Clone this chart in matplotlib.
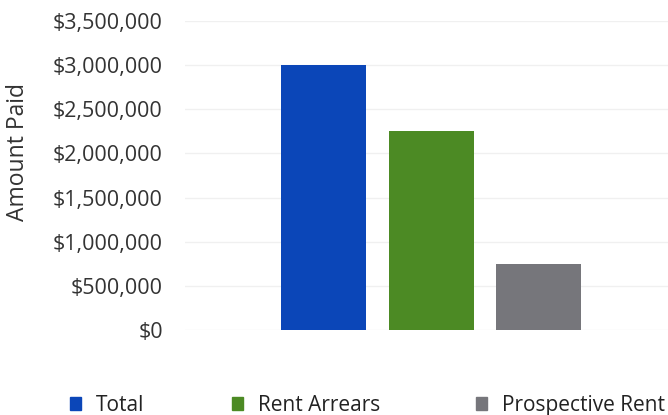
import matplotlib
matplotlib.use("Agg")
import matplotlib.pyplot as plt
from matplotlib.ticker import FuncFormatter, MultipleLocator
from matplotlib.patches import Patch

series = ["Total", "Rent Arrears", "Prospective Rent"]
amounts = [3000000, 2250000, 750000]
colors = ["#0b46b8", "#4c8a24", "#76767b"]

plt.rcParams["font.family"] = ["Open Sans", "DejaVu Sans"]

fig = plt.figure(figsize=(6.68, 4.15), dpi=100)
ax = fig.add_axes([0.277, 0.205, 0.723, 0.744])

xpos = range(len(series))
ax.bar(xpos, amounts, width=0.79, color=colors, zorder=3)

ax.set_xlim(-1.29, 3.2)
ax.set_ylim(0, 3500000)
ax.yaxis.set_major_locator(MultipleLocator(500000))
ax.yaxis.set_major_formatter(FuncFormatter(lambda v, p: "${:,.0f}".format(v)))
ax.grid(axis="y", color="#f0f0f0", linewidth=1, zorder=0)
ax.set_xticks([])
for s in ax.spines.values():
    s.set_visible(False)
ax.tick_params(axis="y", length=0, pad=16, labelsize=15.5, labelcolor="#333333")

fig.text(18 / 668, 1 - 152 / 415, "Amount Paid", rotation=90, ha="center", va="center",
         fontsize=16.5, color="#333333")

# legend entries are spaced unevenly in the original, so place each one
legend_x = [0.076, 0.3185, 0.684]
for c, s, lx in zip(colors, series, legend_x):
    fig.legend(handles=[Patch(color=c, label=s)], loc="lower left",
               bbox_to_anchor=(lx, -0.047), frameon=False, fontsize=15,
               handlelength=0.55, handleheight=0.55, handletextpad=0.7,
               labelcolor="#222222")

fig.savefig("out.png", dpi=100)
